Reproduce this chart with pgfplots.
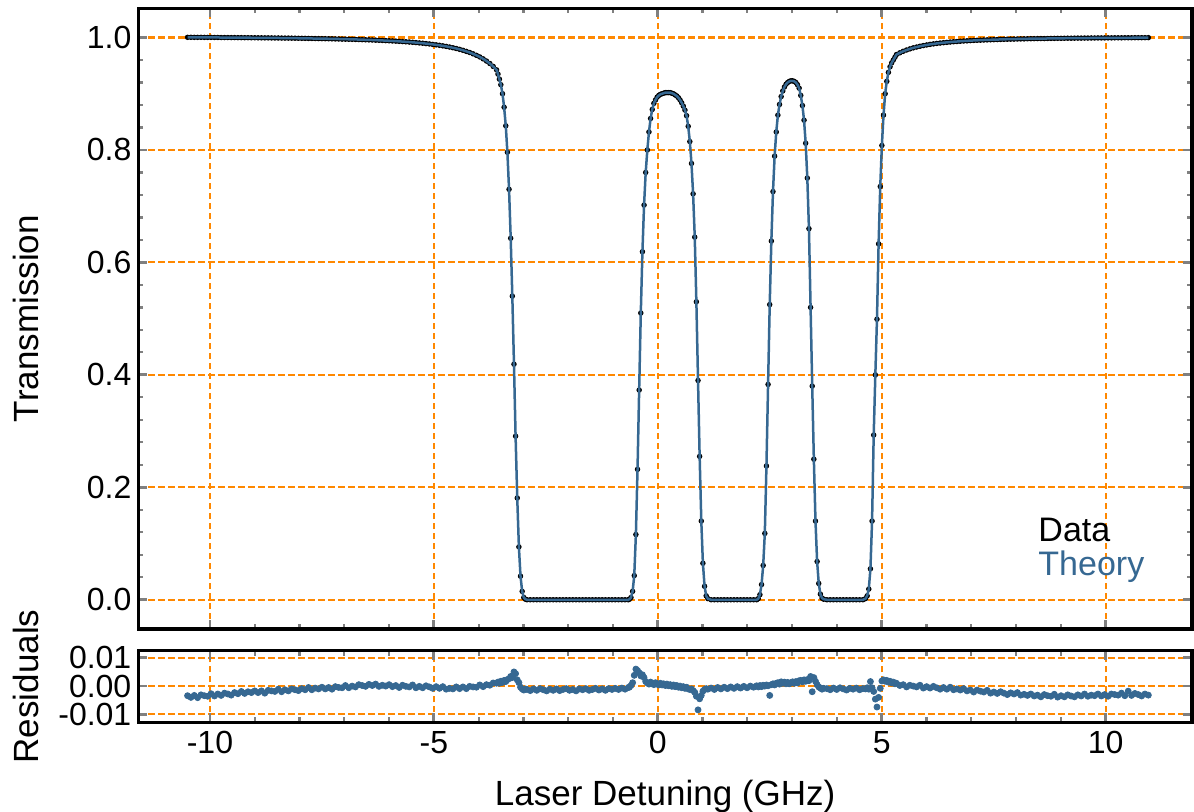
\documentclass[border=0pt]{standalone}
\usepackage{fontspec}
\setmainfont{Liberation Sans}
\usepackage{pgfplots}
\usepackage{pgfplotstable}
\pgfplotsset{compat=1.18}
\definecolor{theo}{RGB}{54,104,146}
\definecolor{gridor}{RGB}{255,136,0}
\tikzset{gridline/.style={draw=gridor, dash pattern=on 3.2pt off 1.8pt, line width=1.05pt}}

\pgfplotstableread{
x T R
-10.500 1.0004 -0.0034
-10.425 1.0004 -0.0040
-10.350 1.0003 -0.0033
-10.275 1.0003 -0.0041
-10.200 1.0003 -0.0031
-10.125 1.0002 -0.0034
-10.050 1.0002 -0.0036
-9.975 1.0002 -0.0027
-9.900 1.0001 -0.0035
-9.825 1.0001 -0.0028
-9.750 1.0000 -0.0033
-9.675 1.0000 -0.0025
-9.600 1.0000 -0.0028
-9.525 0.9999 -0.0032
-9.450 0.9999 -0.0023
-9.375 0.9998 -0.0027
-9.300 0.9998 -0.0019
-9.225 0.9997 -0.0026
-9.150 0.9997 -0.0020
-9.075 0.9996 -0.0023
-9.000 0.9996 -0.0017
-8.925 0.9995 -0.0023
-8.850 0.9995 -0.0017
-8.775 0.9994 -0.0025
-8.700 0.9994 -0.0015
-8.625 0.9993 -0.0017
-8.550 0.9992 -0.0019
-8.475 0.9992 -0.0011
-8.400 0.9991 -0.0020
-8.325 0.9990 -0.0013
-8.250 0.9990 -0.0017
-8.175 0.9989 -0.0010
-8.100 0.9988 -0.0013
-8.025 0.9987 -0.0016
-7.950 0.9986 -0.0009
-7.875 0.9985 -0.0013
-7.800 0.9984 -0.0005
-7.725 0.9983 -0.0013
-7.650 0.9982 -0.0007
-7.575 0.9981 -0.0010
-7.500 0.9980 -0.0004
-7.425 0.9979 -0.0010
-7.350 0.9978 -0.0005
-7.275 0.9977 -0.0011
-7.200 0.9975 -0.0002
-7.125 0.9974 -0.0005
-7.050 0.9972 -0.0006
-6.975 0.9971 0.0002
-6.900 0.9969 -0.0006
-6.825 0.9968 0.0000
-6.750 0.9966 -0.0003
-6.675 0.9964 0.0005
-6.600 0.9962 0.0002
-6.525 0.9960 -0.0001
-6.450 0.9958 0.0006
-6.375 0.9956 0.0002
-6.300 0.9953 0.0007
-6.225 0.9951 -0.0001
-6.150 0.9948 0.0003
-6.075 0.9945 0.0000
-6.000 0.9942 0.0005
-5.925 0.9939 -0.0002
-5.850 0.9936 0.0002
-5.775 0.9932 -0.0005
-5.700 0.9928 0.0003
-5.625 0.9924 -0.0001
-5.550 0.9920 -0.0003
-5.475 0.9915 0.0004
-5.400 0.9910 -0.0006
-5.325 0.9904 -0.0001
-5.250 0.9899 -0.0006
-5.175 0.9892 0.0001
-5.100 0.9886 -0.0003
-5.025 0.9878 -0.0008
-4.950 0.9870 -0.0002
-4.875 0.9862 -0.0008
-4.800 0.9852 -0.0002
-4.725 0.9842 -0.0011
-4.650 0.9831 -0.0008
-4.575 0.9818 -0.0010
-4.500 0.9805 -0.0003
-4.425 0.9790 -0.0009
-4.350 0.9773 -0.0003
-4.275 0.9754 -0.0009
-4.200 0.9734 -0.0001
-4.125 0.9710 -0.0003
-4.050 0.9684 -0.0004
-3.975 0.9655 0.0004
-3.900 0.9621 -0.0002
-3.825 0.9582 0.0005
-3.750 0.9538 0.0003
-3.675 0.9486 0.0011
-3.600 0.9425 0.0010
-3.568 0.935 0.0014
-3.536 0.926 0.0010
-3.504 0.916 0.0017
-3.467 0.900 0.0013
-3.431 0.876 0.0020
-3.394 0.843 0.0016
-3.358 0.796 0.0023
-3.321 0.730 0.0026
-3.284 0.643 0.0034
-3.248 0.540 0.0030
-3.211 0.419 0.0050
-3.175 0.291 0.0044
-3.138 0.181 0.0022
-3.101 0.094 0.0012
-3.065 0.042 -0.0004
-3.028 0.015 -0.0010
-2.992 0.004 -0.0014
-2.955 0.001 -0.0010
-2.920 0 -0.0012
-2.847 0 -0.0016
-2.774 0 -0.0010
-2.701 0 -0.0015
-2.628 0 -0.0009
-2.555 0 -0.0013
-2.482 0 -0.0017
-2.409 0 -0.0011
-2.336 0 -0.0015
-2.263 0 -0.0010
-2.190 0 -0.0016
-2.117 0 -0.0012
-2.044 0 -0.0009
-1.971 0 -0.0015
-1.898 0 -0.0012
-1.825 0 -0.0017
-1.752 0 -0.0010
-1.679 0 -0.0013
-1.606 0 -0.0009
-1.533 0 -0.0015
-1.460 0 -0.0012
-1.387 0 -0.0008
-1.314 0 -0.0014
-1.241 0 -0.0010
-1.168 0 -0.0015
-1.095 0 -0.0009
-1.022 0 -0.0012
-0.949 0 -0.0008
-0.876 0 -0.0012
-0.803 0 -0.0007
-0.730 0 -0.0011
-0.657 0 -0.0005
-0.634 0.001 -0.0004
-0.598 0.004 0.0002
-0.5615 0.015 0.0012
-0.525 0.043 0.0038
-0.4885 0.116 0.0060
-0.452 0.232 0.0055
-0.4155 0.373 0.0047
-0.379 0.510 0.0036
-0.3425 0.619 0.0040
-0.306 0.702 0.0030
-0.2695 0.760 0.0016
-0.233 0.800 0.0011
-0.1965 0.832 0.0007
-0.160 0.856 0.0014
-0.1235 0.872 0.0009
-0.087 0.883 0.0005
-0.050 0.889 0.0012
-0.014 0.894 0.0008
0.023 0.897 0.0004
0.059 0.899 0.0010
0.096 0.900 0.0004
0.132 0.901 0.0008
0.169 0.902 0.0002
0.205 0.902 0.0007
0.242 0.902 0.0001
0.278 0.902 0.0005
0.315 0.901 -0.0001
0.351 0.900 0.0004
0.388 0.898 -0.0002
0.424 0.896 0.0002
0.461 0.893 -0.0004
0.497 0.889 0.0000
0.534 0.884 -0.0006
0.570 0.878 -0.0002
0.607 0.871 -0.0008
0.643 0.861 -0.0004
0.680 0.842 -0.0010
0.716 0.815 -0.0012
0.753 0.776 -0.0010
0.789 0.722 -0.0016
0.826 0.645 -0.0022
0.862 0.530 -0.0036
0.899 0.390 -0.0084
0.935 0.255 -0.0045
0.972 0.140 -0.0033
1.008 0.065 -0.0018
1.045 0.024 -0.0012
1.081 0.007 -0.0009
1.118 0.002 -0.0011
1.191 0 -0.0007
1.264 0 -0.0012
1.337 0 -0.0005
1.410 0 -0.0010
1.483 0 -0.0004
1.556 0 -0.0009
1.629 0 -0.0003
1.702 0 -0.0008
1.775 0 -0.0002
1.848 0 -0.0007
1.921 0 -0.0001
1.994 0 -0.0006
2.067 0 0.0000
2.140 0 -0.0004
2.208 0 0.0001
2.2445 0.002 -0.0003
2.281 0.009 0.0002
2.3175 0.027 -0.0002
2.354 0.061 0.0003
2.3905 0.118 0.0000
2.427 0.238 0.0004
2.4635 0.383 0.0001
2.500 0.525 -0.0033
2.5365 0.638 0.0005
2.573 0.726 0.0008
2.6095 0.789 0.0004
2.646 0.832 0.0010
2.6825 0.862 0.0012
2.719 0.881 0.0007
2.7555 0.895 0.0015
2.792 0.905 0.0010
2.8285 0.912 0.0014
2.865 0.917 0.0008
2.9015 0.920 0.0013
2.938 0.922 0.0008
2.9745 0.923 0.0012
3.011 0.923 0.0015
3.0475 0.922 0.0010
3.084 0.920 0.0016
3.1205 0.916 0.0011
3.157 0.910 0.0019
3.1935 0.897 0.0020
3.230 0.879 0.0015
3.2665 0.853 0.0022
3.303 0.812 0.0017
3.3395 0.750 0.0023
3.376 0.660 0.0019
3.4125 0.520 0.0034
3.449 0.380 -0.0020
3.4855 0.250 0.0030
3.522 0.140 0.0017
3.5585 0.068 0.0005
3.595 0.029 -0.0003
3.6315 0.010 -0.0007
3.668 0.003 -0.0011
3.7045 0.001 -0.0008
3.777 0 -0.0009
3.850 0 -0.0013
3.923 0 -0.0007
3.996 0 -0.0012
4.069 0 -0.0006
4.142 0 -0.0010
4.215 0 -0.0014
4.288 0 -0.0008
4.361 0 -0.0011
4.434 0 -0.0007
4.507 0 -0.0013
4.580 0 -0.0009
4.6395 0.002 -0.0010
4.676 0.007 -0.0006
4.7125 0.019 -0.0011
4.749 0.055 0.0016
4.7855 0.140 -0.0006
4.822 0.293 -0.0019
4.8585 0.400 -0.0046
4.895 0.499 -0.0074
4.9315 0.633 -0.0040
4.968 0.735 -0.0008
5.0045 0.808 0.0018
5.041 0.862 0.0022
5.0775 0.900 0.0017
5.114 0.922 0.0020
5.1505 0.938 0.0014
5.187 0.948 0.0017
5.2235 0.955 0.0011
5.260 0.960 0.0014
5.2965 0.965 0.0008
5.330 0.9697 0.0010
5.405 0.9728 0.0002
5.480 0.9755 0.0005
5.555 0.9778 -0.0003
5.630 0.9798 0.0003
5.705 0.9816 0.0000
5.780 0.9831 -0.0003
5.855 0.9845 0.0003
5.930 0.9857 -0.0007
6.005 0.9868 -0.0002
6.080 0.9878 -0.0007
6.155 0.9887 -0.0001
6.230 0.9895 -0.0006
6.305 0.9902 -0.0011
6.380 0.9908 -0.0005
6.455 0.9914 -0.0011
6.530 0.9920 -0.0004
6.605 0.9925 -0.0013
6.680 0.9929 -0.0010
6.755 0.9934 -0.0014
6.830 0.9938 -0.0009
6.905 0.9941 -0.0017
6.980 0.9945 -0.0014
7.055 0.9948 -0.0021
7.130 0.9951 -0.0014
7.205 0.9953 -0.0018
7.280 0.9956 -0.0021
7.355 0.9958 -0.0015
7.430 0.9960 -0.0025
7.505 0.9962 -0.0021
7.580 0.9964 -0.0026
7.655 0.9966 -0.0020
7.730 0.9968 -0.0025
7.805 0.9970 -0.0030
7.880 0.9971 -0.0024
7.955 0.9972 -0.0028
8.030 0.9974 -0.0023
8.105 0.9975 -0.0032
8.180 0.9976 -0.0029
8.255 0.9978 -0.0033
8.330 0.9979 -0.0028
8.405 0.9980 -0.0035
8.480 0.9981 -0.0032
8.555 0.9982 -0.0038
8.630 0.9982 -0.0030
8.705 0.9983 -0.0034
8.780 0.9984 -0.0036
8.855 0.9985 -0.0029
8.930 0.9986 -0.0039
9.005 0.9986 -0.0034
9.080 0.9987 -0.0038
9.155 0.9988 -0.0031
9.230 0.9988 -0.0035
9.305 0.9989 -0.0038
9.380 0.9990 -0.0031
9.455 0.9990 -0.0035
9.530 0.9991 -0.0028
9.605 0.9991 -0.0036
9.680 0.9992 -0.0032
9.755 0.9992 -0.0034
9.830 0.9993 -0.0028
9.905 0.9993 -0.0035
9.980 0.9993 -0.0030
10.055 0.9994 -0.0036
10.130 0.9994 -0.0028
10.205 0.9995 -0.0030
10.280 0.9995 -0.0032
10.355 0.9995 -0.0025
10.430 0.9996 -0.0034
10.505 0.9996 -0.0018
10.580 0.9996 -0.0033
10.655 0.9997 -0.0026
10.730 0.9997 -0.0030
10.805 0.9997 -0.0035
10.880 0.9997 -0.0028
10.955 0.9998 -0.0032
}\spec

\pgfplotsset{
  mystyle/.style={
    scale only axis, width=526.85pt,
    xmin=-11.6, xmax=11.93,
    axis on top,
    clip mode=individual,
    axis line style={line width=1.7pt},
    tick align=inside, tick pos=both,
    xtick={-10,-5,0,5,10}, minor x tick num=4,
    major tick length=4.5pt, minor tick length=2.5pt,
    major tick style={line width=1.4pt},
    minor tick style={line width=1.1pt},
    grid=none,
    tick label style={font=\fontsize{16}{18}\selectfont},
    label style={font=\fontsize{17.5}{20}\selectfont},
    /pgf/number format/assume math mode=true,
    yticklabel style={inner sep=0pt, xshift=-3.3pt},
    xticklabel style={inner sep=0pt, yshift=-4.2pt},
  }
}

\begin{document}
\begin{tikzpicture}
\useasboundingbox (0,0) rectangle (597pt,-406pt);
\begin{axis}[mystyle,
  at={(69.15pt,-314.5pt)}, anchor=south west,
  height=310.35pt,
  ymin=-0.052, ymax=1.052,
  ytick={0,0.2,0.4,0.6,0.8,1}, minor y tick num=4,
  xticklabels={},
  yticklabel style={/pgf/number format/fixed, /pgf/number format/fixed zerofill, /pgf/number format/precision=1},
  ylabel={Transmission},
  ylabel style={at={(axis description cs:-0.1066,0.5)}, anchor=center},
]
\pgfplotsinvokeforeach{-10,-5,0,5,10}{\draw[gridline] (axis cs:#1,-0.052) -- (axis cs:#1,1.052);}
\pgfplotsinvokeforeach{0,0.2,0.4,0.6,0.8,1}{\draw[gridline] (axis cs:-11.6,#1) -- (axis cs:11.93,#1);}
\addplot[only marks, mark=*, mark size=1.15pt, black] table[x=x, y=T] {\spec};
\addplot[theo, line width=1.25pt] table[x=x, y=T] {\spec};
\node[anchor=base west, inner sep=0pt, font=\fontsize{17}{20}\selectfont] at (rel axis cs:0.8539,0.1406) {Data};
\node[anchor=base west, inner sep=0pt, text=theo, font=\fontsize{17}{20}\selectfont] at (rel axis cs:0.8539,0.0854) {Theory};
\end{axis}
\begin{axis}[mystyle,
  at={(69.15pt,-325.35pt)}, anchor=north west,
  height=35.8pt,
  ymin=-0.0128, ymax=0.0125,
  ytick={-0.01,0,0.01}, minor y tick num=0,
  scaled y ticks=false,
  yticklabel style={/pgf/number format/fixed, /pgf/number format/fixed zerofill, /pgf/number format/precision=2},
  ylabel={Residuals},
  ylabel style={at={(axis description cs:-0.1066,0.5)}, anchor=center},
  xlabel={Laser Detuning (GHz)},
  xlabel style={at={(axis description cs:0.5,-1.169)}, anchor=base},
]
\pgfplotsinvokeforeach{-10,-5,0,5,10}{\draw[gridline] (axis cs:#1,-0.0128) -- (axis cs:#1,0.0125);}
\pgfplotsinvokeforeach{-0.01,0,0.01}{\draw[gridline] (axis cs:-11.6,#1) -- (axis cs:11.93,#1);}
\addplot[only marks, mark=*, mark size=1.5pt, theo] table[x=x, y=R] {\spec};
\end{axis}
\end{tikzpicture}
\end{document}
